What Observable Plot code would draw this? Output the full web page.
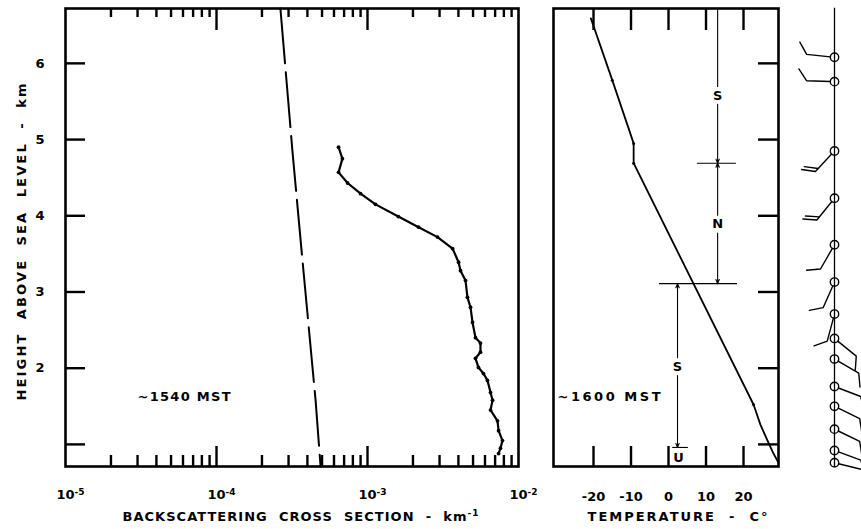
<!DOCTYPE html>
<html><head><meta charset="utf-8">
<script src="https://cdn.jsdelivr.net/npm/d3@7"></script>
<script src="https://cdn.jsdelivr.net/npm/@observablehq/plot@0.6"></script>
<style>
body{margin:0;background:#fff;overflow:hidden}
#fig{position:relative;width:861px;height:529px;background:#fff;overflow:hidden}
#fig svg{position:absolute;top:0}
</style></head><body><div id="fig"></div>
<script>
// ---------- data ----------
// lidar backscattering profile (~1540 MST)
const backscatterHeight = [4.90,4.75,4.57,4.43,4.29,4.15,3.99,3.85,3.72,3.57,3.39,3.28,3.15,2.93,2.80,2.60,2.40,2.33,2.21,2.13,2.01,1.93,1.84,1.68,1.58,1.45,1.31,1.18,1.05,0.95,0.88];
const backscatterValue  = [6.43e-4,6.82e-4,6.43e-4,7.38e-4,9.0e-4,1.13e-3,1.60e-3,2.18e-3,2.91e-3,3.66e-3,4.01e-3,4.13e-3,4.46e-3,4.59e-3,4.81e-3,4.96e-3,5.19e-3,5.60e-3,5.60e-3,5.19e-3,5.43e-3,5.86e-3,6.23e-3,6.53e-3,6.73e-3,6.53e-3,7.26e-3,7.38e-3,7.83e-3,7.60e-3,7.38e-3];
// molecular (dashed) reference
const rayleighHeight = [6.72,4.86,3.39,1.58,0.71];
const rayleighValue  = [2.65e-4,3.18e-4,3.72e-4,4.53e-4,4.89e-4];
// temperature sounding (~1600 MST)
const tempHeight = [6.59,5.78,4.95,4.69,1.52,1.26,1.05,0.88,0.76];
const tempValue  = [-20.7,-15.0,-9.3,-9.3,22.7,24.5,26.4,28.0,29.3];
// stability layers
const layerNames       = ["S","N","S"];
const layerTop         = [6.72,4.69,3.11];
const layerBottom      = [4.69,3.11,0.96];
const layerTemp        = [13.1,13.1,2.4];
const layerLabelHeight = [5.58,3.89,2.02];
const boundaryHeight = [4.69,3.11,0.96];
const boundaryFrom   = [7.7,-2.4,1.1];
const boundaryTo     = [18.1,18.4,5.3];
const groundLabel = ["U"]; const groundTemp = [2.7]; const groundHeight = [0.83];
// winds
const windHeight = [6.08,5.76,4.85,4.23,3.62,3.13,2.71,2.39,2.12,1.76,1.50,1.20,0.92,0.76];
const windDir    = [276,272,223,219,210,204,195,129,120,111,116,116,110,104];
const windBarbs  = [1,1,2,2,1,1,1,1,1,1,1,1,1,1];
// axes
const heightTicks  = [1,2,3,4,5,6];
const heightLabels = [2,3,4,5,6];
const decades      = [1e-5,1e-4,1e-3,1e-2];
const decadeBase   = "10";
const decadeExps   = ["-5","-4","-3","-2"];
const minorMultiples = [2,3,4,5,6,7,8,9];
const tempTicks = [-20,-10,0,10,20];
const xTitleLeft  = "BACKSCATTERING  CROSS  SECTION  -  km";
const xTitleLeftExp = "-1";
const xTitleMid   = "TEMPERATURE  -  C°";
const yTitle      = "HEIGHT  ABOVE  SEA  LEVEL  -  km";
const timeLeft = "~1540 MST";
const timeMid  = "~1600 MST";

// ---------- tables ----------
const profile  = backscatterHeight.map((h,i)=>({h, v: backscatterValue[i]}));
const rayleigh = rayleighHeight.map((h,i)=>({h, v: rayleighValue[i]}));
const temp     = tempHeight.map((h,i)=>({h, t: tempValue[i]}));
const layers   = layerNames.map((name,i)=>({name, top: layerTop[i], bottom: layerBottom[i], t: layerTemp[i], h: layerLabelHeight[i], i}));
const bounds   = boundaryHeight.map((h,i)=>({h, x1: boundaryFrom[i], x2: boundaryTo[i]}));
const wind     = windHeight.map((h,i)=>({h, dir: windDir[i], barbs: windBarbs[i]}));
const minor    = decades.slice(0,3).flatMap(d=>minorMultiples.map(k=>k*d));
const majorInner = decades.slice(1,3);
const decadeText = d => decadeBase + "\u2009" + decadeExps[decades.indexOf(d)];

const H = 529, yDomain = [0.71, 6.72];
const style = {fontFamily: "'DejaVu Sans', sans-serif", fontSize: "13px", fontWeight: "bold", color: "black", background: "transparent", overflow: "visible"};
const common = {height: H, marginTop: 8, marginBottom: 63, style};
const ink = "black";

// ---------- left panel ----------
const left = Plot.plot({
  ...common, width: 535, marginLeft: 65, marginRight: 17,
  x: {type: "log", domain: [1e-5, 1e-2]},
  y: {domain: yDomain},
  marks: [
    Plot.frame({stroke: ink, strokeWidth: 2.6}),
    Plot.tickX(minor, {x: d=>d, insetTop: 447, stroke: ink, strokeWidth: 2.4}),
    Plot.tickX(minor, {x: d=>d, insetBottom: 449, stroke: ink, strokeWidth: 2.4}),
    Plot.tickX(majorInner, {x: d=>d, insetTop: 438, stroke: ink, strokeWidth: 2.4}),
    Plot.tickX(majorInner, {x: d=>d, insetBottom: 436, stroke: ink, strokeWidth: 2.4}),
    Plot.tickY(heightTicks, {y: d=>d, insetRight: 433, stroke: ink, strokeWidth: 2.4}),
    Plot.axisX(decades, {label: null, tickSize: 0, tickPadding: 23, dx: 5, tickFormat: decadeText, fill: ink}),
    Plot.axisY(heightLabels, {label: null, tickSize: 0, tickPadding: 21, tickFormat: d=>String(d), fill: ink}),
    Plot.line(rayleigh, {x: "v", y: "h", stroke: ink, strokeWidth: 2, strokeDasharray: "55,9"}),
    Plot.line(profile, {x: "v", y: "h", stroke: ink, strokeWidth: 2.2}),
    Plot.dot(profile, {x: "v", y: "h", r: 1.9, fill: ink}),
    Plot.text([timeLeft], {frameAnchor: "bottom-left", dx: 72, dy: -66, textAnchor: "start", fill: ink}),
    Plot.text([xTitleLeft], {frameAnchor: "bottom", dx: 8.5, dy: 54, fill: ink}),
    Plot.text([yTitle], {frameAnchor: "left", textAnchor: "middle", dx: -44, dy: 4.5, rotate: -90, fill: ink})
  ]
});

// ---------- middle panel ----------
const headOpts = {headLength: 6, headAngle: 45, insetStart: 9, stroke: ink, strokeWidth: 1.1};
const mid = Plot.plot({
  ...common, width: 260, marginLeft: 18, marginRight: 17,
  x: {domain: [-30.67, 29.33]},
  y: {domain: yDomain, axis: null},
  marks: [
    Plot.frame({stroke: ink, strokeWidth: 2.6}),
    Plot.tickX(tempTicks, {x: d=>d, insetTop: 438, stroke: ink, strokeWidth: 2.4}),
    Plot.tickX(tempTicks, {x: d=>d, insetBottom: 436, stroke: ink, strokeWidth: 2.4}),
    Plot.tickY(heightTicks, {y: d=>d, insetLeft: 205, stroke: ink, strokeWidth: 2.4}),
    Plot.axisX(tempTicks, {label: null, tickSize: 0, tickPadding: 25, tickFormat: d=>String(d), fill: ink}),
    Plot.line(temp, {x: "t", y: "h", stroke: ink, strokeWidth: 1.8}),
    Plot.dot(temp.slice(1, 5), {x: "t", y: "h", r: 1.5, fill: ink}),
    Plot.ruleY(bounds, {y: "h", x1: "x1", x2: "x2", stroke: ink, strokeWidth: 1.1}),
    Plot.arrow(layers, {x1: "t", y1: "h", x2: "t", y2: "bottom", ...headOpts}),
    Plot.arrow(layers.filter(d=>d.i>0), {x1: "t", y1: "h", x2: "t", y2: "top", ...headOpts}),
    Plot.arrow(layers.filter(d=>d.i===0), {x1: "t", y1: "h", x2: "t", y2: "top", ...headOpts, headLength: 0}),
    Plot.text(layers, {x: "t", y: "h", text: "name", fill: ink}),
    Plot.text(groundLabel, {x: groundTemp, y: groundHeight, text: d=>d, fill: ink}),
    Plot.text([timeMid], {frameAnchor: "bottom-left", dx: 4, dy: -66, textAnchor: "start", fill: ink}),
    Plot.text([xTitleMid], {frameAnchor: "bottom", dx: 11.5, dy: 54, fill: ink})
  ]
});

// ---------- wind panel ----------
const deg = Math.PI/180, barbAngle = 55*deg, barbLen = 14, hub = 4.2, barbGap = 4;
const barbFirst = {draw(ctx, l) {
  ctx.moveTo(0, -hub); ctx.lineTo(0, -l);
  ctx.lineTo(barbLen*Math.sin(barbAngle), -l - barbLen*Math.cos(barbAngle));
}};
const barbSecond = {draw(ctx, l) {
  const s = l - barbGap;
  ctx.moveTo(0, -s);
  ctx.lineTo(barbLen*Math.sin(barbAngle), -s - barbLen*Math.cos(barbAngle));
}};
const right = Plot.plot({
  ...common, width: 66, marginLeft: 39, marginRight: 0,
  y: {domain: yDomain, axis: null},
  marks: [
    Plot.frame({anchor: "left", stroke: ink, strokeWidth: 1.3}),
    Plot.dot(wind, {y: "h", frameAnchor: "left", r: 4.2, stroke: ink, strokeWidth: 1.4}),
    Plot.vector(wind, {y: "h", rotate: "dir", length: 28, anchor: "start", frameAnchor: "left", shape: barbFirst, stroke: ink, strokeWidth: 1.4}),
    Plot.vector(wind.filter(d=>d.barbs>1), {y: "h", rotate: "dir", length: 28, anchor: "start", frameAnchor: "left", shape: barbSecond, stroke: ink, strokeWidth: 1.4})
  ]
});

const fig = document.getElementById("fig");
left.style.left = "0px"; mid.style.left = "535px"; right.style.left = "795px";
fig.append(left, mid, right);

// superscripts as real text (tspan)
const NS = "http://www.w3.org/2000/svg";
function superscript(t, base, exp, size) {
  t.textContent = base;
  const s = document.createElementNS(NS, "tspan");
  s.setAttribute("dy", "-0.45em"); s.setAttribute("font-size", size);
  s.textContent = exp;
  t.appendChild(s);
}
left.querySelectorAll("text").forEach(t => {
  const c = t.textContent;
  const k = decades.findIndex(d => decadeText(d) === c);
  if (k >= 0) superscript(t, decadeBase, decadeExps[k], "9px");
});
// fit lettering widths like the hand lettering
const fits = new Map([[xTitleLeft, 356], [xTitleMid, 180], [yTitle, 317], [timeLeft, 93], [timeMid, 103]]);
for (const svg of [left, mid]) {
  svg.querySelectorAll("text").forEach(t => {
    const c = t.textContent;
    const w = fits.get(c);
    if (w) {
      if (c === xTitleLeft) superscript(t, xTitleLeft, xTitleLeftExp, "9px");
      t.setAttribute("textLength", w); t.setAttribute("lengthAdjust", "spacing");
    }
  });
}
</script></body></html>
